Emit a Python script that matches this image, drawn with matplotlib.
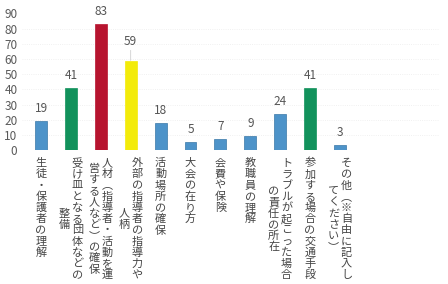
import numpy as np
import matplotlib
matplotlib.use("Agg")
import matplotlib.pyplot as plt

plt.rcParams['font.family'] = ['Noto Sans CJK JP', 'DejaVu Sans']

# data ("\n" separates the vertical text columns)
categories = [
    "生徒・保護者の理解",
    "受け皿となる団体などの\n整備",
    "人材（指導者・活動を運\n営する人など）の確保",
    "外部の指導者の指導力や\n人柄",
    "活動場所の確保",
    "大会の在り方",
    "会費や保険",
    "教職員の理解",
    "トラブルが起こった場合\nの責任の所在",
    "参加する場合の交通手段",
    "その他（※自由に記入し\nてください）",
]
values = [19, 41, 83, 59, 18, 5, 7, 9, 24, 41, 3]
yticks = [0, 10, 20, 30, 40, 50, 60, 70, 80, 90]

blue, green, red, yellow = '#4d93c9', '#12925c', '#b7142f', '#f3eb0a'
colors = [blue, green, red, yellow, blue, blue, blue, blue, blue, green, blue]

W, H = 448, 284
fig = plt.figure(figsize=(W / 100, H / 100), dpi=100)
ax = fig.add_axes([21.6 / W, 134 / H, 417 / W, 136.5 / H])

x = np.arange(len(values))
edge = ['#3a78a8' if c == blue else c for c in colors]
ax.bar(x, values, width=0.4, color=colors, edgecolor=edge, linewidth=0.5, zorder=2)

ax.set_xlim(-0.65, 13.3)
ax.set_ylim(0, 90)
ax.set_yticks(yticks)
ax.set_xticks([])
ax.tick_params(axis='y', length=0, pad=3, labelsize=8.5, labelcolor='#5a5a5a')
for s in ax.spines.values():
    s.set_visible(False)
ax.grid(axis='y', color='#ececec', linestyle=':', linewidth=0.6, zorder=0)

# value labels
for xi, v in zip(x, values):
    if v == 59:
        ax.annotate(str(v), xy=(xi, v), xytext=(0, 13), textcoords='offset pixels',
                    ha='center', va='bottom', fontsize=8.5, color='#555555',
                    arrowprops=dict(arrowstyle='-', color='#c8c8c8', lw=0.5,
                                    shrinkA=0, shrinkB=0))
    else:
        ax.annotate(str(v), xy=(xi, v), xytext=(0, 6), textcoords='offset pixels',
                    ha='center', va='bottom', fontsize=8.5, color='#555555')

# vertical (tategaki) category labels, columns read right to left
vert = {'（': '︵', '）': '︶'}
pitch = 11.2
col_gap = 13.0
top_gap = 7.5
for xi, cat in zip(x, categories):
    cols = cat.split('\n')
    nmax = max(len(c) for c in cols)
    yc = top_gap + nmax * pitch / 2
    for j, col in enumerate(cols):
        dx = (len(cols) - 1) / 2 * col_gap - j * col_gap
        y0 = yc - len(col) * pitch / 2
        for k, ch in enumerate(col):
            ax.annotate(vert.get(ch, ch), xy=(xi, 0), xycoords=('data', 'axes fraction'),
                        xytext=(dx, -(y0 + (k + 0.5) * pitch)), textcoords='offset pixels',
                        ha='center', va='center', fontsize=8, color='#444444',
                        annotation_clip=False)

fig.savefig('out.png', dpi=100)
